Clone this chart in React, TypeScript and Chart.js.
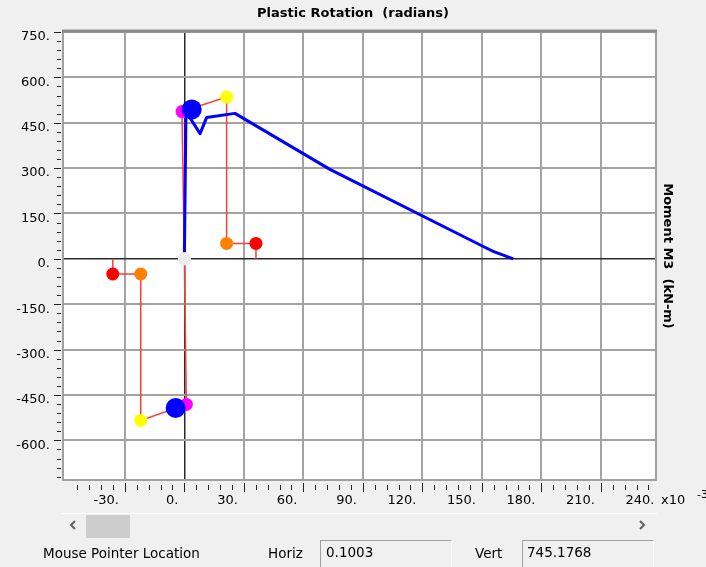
import React, { useEffect, useRef } from 'react';
import { Chart, registerables } from 'chart.js';

Chart.register(...registerables);

// ---- axis ticks ----
const X_TICKS = [-30, 0, 30, 60, 90, 120, 150, 180, 210, 240];
const Y_TICKS = [-600, -450, -300, -150, 0, 150, 300, 450, 600, 750];
const X_MIN = -61.2;
const X_MAX = 237.8;
const Y_MIN = -731;
const Y_MAX = 750;

// ---- hysteresis curve (blue) ----
const curveX = [0, 0.8, 7.9, 11.2, 25.5, 73.4, 150.7, 155.7, 165.8];
const curveY = [0, 487, 414, 467, 481, 296, 41, 25, 0];

// ---- hinge backbone points A, B, C, D, E (+ foot) ----
const posPathX = [0, -1.2, 21.3, 21.3, 36.1, 36.1];
const posPathY = [0, 487, 535, 51, 51, 0];
const negPathX = [0, 1.0, -22, -22, -36.1, -36.1];
const negPathY = [0, -481, -534, -50, -50, 0];
const pointColors = ['#ebebeb', '#ff00ff', '#ffff00', '#ff8000', '#ff0000'];

// ---- current state markers (big blue) ----
const stateX = [3.7, -4.4];
const stateY = [494, -493];

const FONT = '"DejaVu Sans", sans-serif';

const pts = (xs: number[], ys: number[]) => xs.map((x, i) => ({ x, y: ys[i] }));

const framePlugin = {
  id: 'frame',
  beforeDraw(chart: any) {
    const { ctx, chartArea: a } = chart;
    ctx.save();
    ctx.fillStyle = '#f0f0f0';
    ctx.fillRect(0, 0, chart.width, chart.height);
    ctx.fillStyle = '#ffffff';
    ctx.fillRect(a.left, a.top, a.right - a.left, a.bottom - a.top);
    ctx.restore();
  },
  beforeDatasetsDraw(chart: any) {
    const { ctx, chartArea: a } = chart;
    ctx.save();
    ctx.strokeStyle = '#a0a0a0';
    ctx.lineWidth = 2;
    ctx.strokeRect(a.left, a.top, a.right - a.left, a.bottom - a.top);
    ctx.strokeStyle = '#8a8a8a';
    ctx.lineWidth = 3;
    ctx.beginPath();
    ctx.moveTo(a.left - 1, a.top - 1);
    ctx.lineTo(a.right + 1, a.top - 1);
    ctx.stroke();
    ctx.restore();
  },
  afterDraw(chart: any) {
    const { ctx, chartArea: a, scales } = chart;
    const xs = scales.x;
    const ys = scales.y;
    ctx.save();
    ctx.strokeStyle = '#202020';
    ctx.lineWidth = 1;
    // x tick marks (major every 30, minor every 6)
    for (let v = -54; v <= 234; v += 6) {
      const px = Math.round(xs.getPixelForValue(v)) + 0.5;
      const major = v % 30 === 0;
      ctx.beginPath();
      ctx.moveTo(px, a.bottom + (major ? 3 : 5));
      ctx.lineTo(px, a.bottom + (major ? 12 : 10));
      ctx.stroke();
    }
    // y tick marks (major every 150, minor every 30)
    for (let v = 750; v >= -720; v -= 30) {
      const py = Math.round(ys.getPixelForValue(v)) + 0.5;
      const major = v % 150 === 0;
      ctx.beginPath();
      ctx.moveTo(a.left - (major ? 9 : 6), py);
      ctx.lineTo(a.left - 2, py);
      ctx.stroke();
    }
    // exponent label
    ctx.fillStyle = '#000';
    ctx.textBaseline = 'middle';
    ctx.textAlign = 'left';
    ctx.font = `13px ${FONT}`;
    ctx.fillText('x10', 661, 501);
    ctx.font = `11px ${FONT}`;
    ctx.fillText('-3', 697, 495);
    ctx.restore();
  },
};

export default function App() {
  const ref = useRef<HTMLCanvasElement>(null);

  useEffect(() => {
    if (!ref.current) return;
    const markerData = [
      ...pts(posPathX.slice(0, 5), posPathY.slice(0, 5)),
      ...pts(negPathX.slice(0, 5), negPathY.slice(0, 5)),
    ];
    const markerColors = [...pointColors, ...pointColors];
    const inRange = (c: any) => {
      const s = c.scale;
      const v = c.tick ? c.tick.value : 0;
      return v >= s.min && v <= s.max;
    };
    const gridColor = (c: any) =>
      !inRange(c) ? 'rgba(0,0,0,0)' : c.tick && c.tick.value === 0 ? '#2a2a2a' : '#a3a3a3';
    const gridWidth = (c: any) => (c.tick && c.tick.value === 0 ? 1.5 : 2);

    const chart = new Chart(ref.current, {
      type: 'scatter',
      data: {
        datasets: [
          {
            label: 'pos backbone',
            data: pts(posPathX, posPathY),
            showLine: true,
            borderColor: '#ff3c3c',
            borderWidth: 1.5,
            pointRadius: 0,
            order: 5,
          },
          {
            label: 'neg backbone',
            data: pts(negPathX, negPathY),
            showLine: true,
            borderColor: '#ff3c3c',
            borderWidth: 1.5,
            pointRadius: 0,
            order: 5,
          },
          {
            label: 'curve',
            data: pts(curveX, curveY),
            showLine: true,
            borderColor: '#0000ff',
            borderWidth: 3,
            borderJoinStyle: 'round',
            pointRadius: 0,
            order: 3,
          },
          {
            label: 'points',
            data: markerData,
            showLine: false,
            pointRadius: 6.5,
            pointBorderWidth: 0,
            pointBackgroundColor: markerColors,
            pointBorderColor: markerColors,
            order: 2,
          },
          {
            label: 'state',
            data: pts(stateX, stateY),
            showLine: false,
            pointRadius: 10,
            pointBorderWidth: 0,
            pointBackgroundColor: '#0000ff',
            pointBorderColor: '#0000ff',
            order: 1,
          },
        ],
      },
      options: {
        animation: false,
        responsive: false,
        devicePixelRatio: 1,
        layout: { padding: 0 },
        events: [],
        plugins: {
          legend: { display: false },
          tooltip: { enabled: false },
          title: {
            display: true,
            text: 'Plastic Rotation  (radians)',
            color: '#000',
            font: { family: FONT, size: 13, weight: 'bold' },
            padding: { top: 5.6, bottom: 10.8 },
          },
        },
        scales: {
          x: {
            type: 'linear',
            position: 'bottom',
            min: X_MIN,
            max: X_MAX,
            afterBuildTicks: (s: any) => {
              s.ticks = X_TICKS.map((v) => ({ value: v }));
            },
            afterFit: (s: any) => {
              s.height = 87;
            },
            border: { display: false },
            grid: { drawTicks: false, color: gridColor, lineWidth: gridWidth },
            ticks: {
              autoSkip: false,
              maxRotation: 0,
              align: 'end',
              labelOffset: -6,
              padding: 13,
              color: '#000',
              font: { family: FONT, size: 13 },
              callback: (v: any) => `${v}.`,
            },
          },
          y: {
            type: 'linear',
            position: 'left',
            min: Y_MIN,
            max: Y_MAX,
            afterBuildTicks: (s: any) => {
              s.ticks = Y_TICKS.map((v) => ({ value: v }));
            },
            afterFit: (s: any) => {
              s.width = 63;
            },
            border: { display: false },
            grid: { drawTicks: false, color: gridColor, lineWidth: gridWidth },
            ticks: {
              autoSkip: false,
              labelOffset: 5,
              padding: 13,
              color: '#000',
              font: { family: FONT, size: 13 },
              callback: (v: any) => `${v}.`,
            },
          },
          y2: {
            type: 'linear',
            position: 'right',
            min: Y_MIN,
            max: Y_MAX,
            afterFit: (s: any) => {
              s.width = 50;
            },
            border: { display: false },
            grid: { display: false, drawTicks: false },
            ticks: { display: false },
            title: {
              display: true,
              text: 'Moment M3  (kN-m)',
              color: '#000',
              font: { family: FONT, size: 13, weight: 'bold' },
              padding: { top: 31, bottom: 0 },
            },
          },
        },
      } as any,
      plugins: [framePlugin],
    });
    return () => chart.destroy();
  }, []);

  const text = (left: number, cy: number, s: string, size = 13.5) => (
    <div
      style={{
        position: 'absolute',
        left,
        top: cy - 9,
        height: 18,
        lineHeight: '18px',
        fontSize: size,
        fontFamily: FONT,
        color: '#000',
        whiteSpace: 'nowrap',
      }}
    >
      {s}
    </div>
  );

  const box = (left: number, width: number) => (
    <div
      style={{
        position: 'absolute',
        left,
        top: 540,
        width,
        height: 30,
        borderTop: '1px solid #a0a0a0',
        borderLeft: '1px solid #a0a0a0',
        borderRight: '1px solid #ffffff',
        boxSizing: 'border-box',
        background: '#f0f0f0',
      }}
    />
  );

  return (
    <div
      style={{
        position: 'fixed',
        left: 0,
        top: 0,
        width: 706,
        height: 567,
        overflow: 'hidden',
        background: '#f0f0f0',
      }}
    >
      <canvas
        ref={ref}
        width={706}
        height={567}
        style={{ position: 'absolute', left: 0, top: 0, width: 706, height: 567 }}
      />
      {/* scrollbar */}
      <div style={{ position: 'absolute', left: 62, top: 513, width: 595, height: 1, background: '#ffffff' }} />
      <div style={{ position: 'absolute', left: 86, top: 515, width: 44, height: 23, background: '#cdcdcd' }} />
      <svg style={{ position: 'absolute', left: 68, top: 519 }} width={10} height={12}>
        <polyline points="7,2 3,6 7,10" fill="none" stroke="#606060" strokeWidth={2} />
      </svg>
      <svg style={{ position: 'absolute', left: 637, top: 519 }} width={10} height={12}>
        <polyline points="3,2 7,6 3,10" fill="none" stroke="#606060" strokeWidth={2} />
      </svg>
      {/* mouse pointer location */}
      {text(43, 553, 'Mouse Pointer Location')}
      {text(268, 553, 'Horiz')}
      {box(320, 132)}
      {text(326, 552, '0.1003')}
      {text(475, 553, 'Vert')}
      {box(522, 132)}
      {text(527, 552, '745.1768')}
    </div>
  );
}
